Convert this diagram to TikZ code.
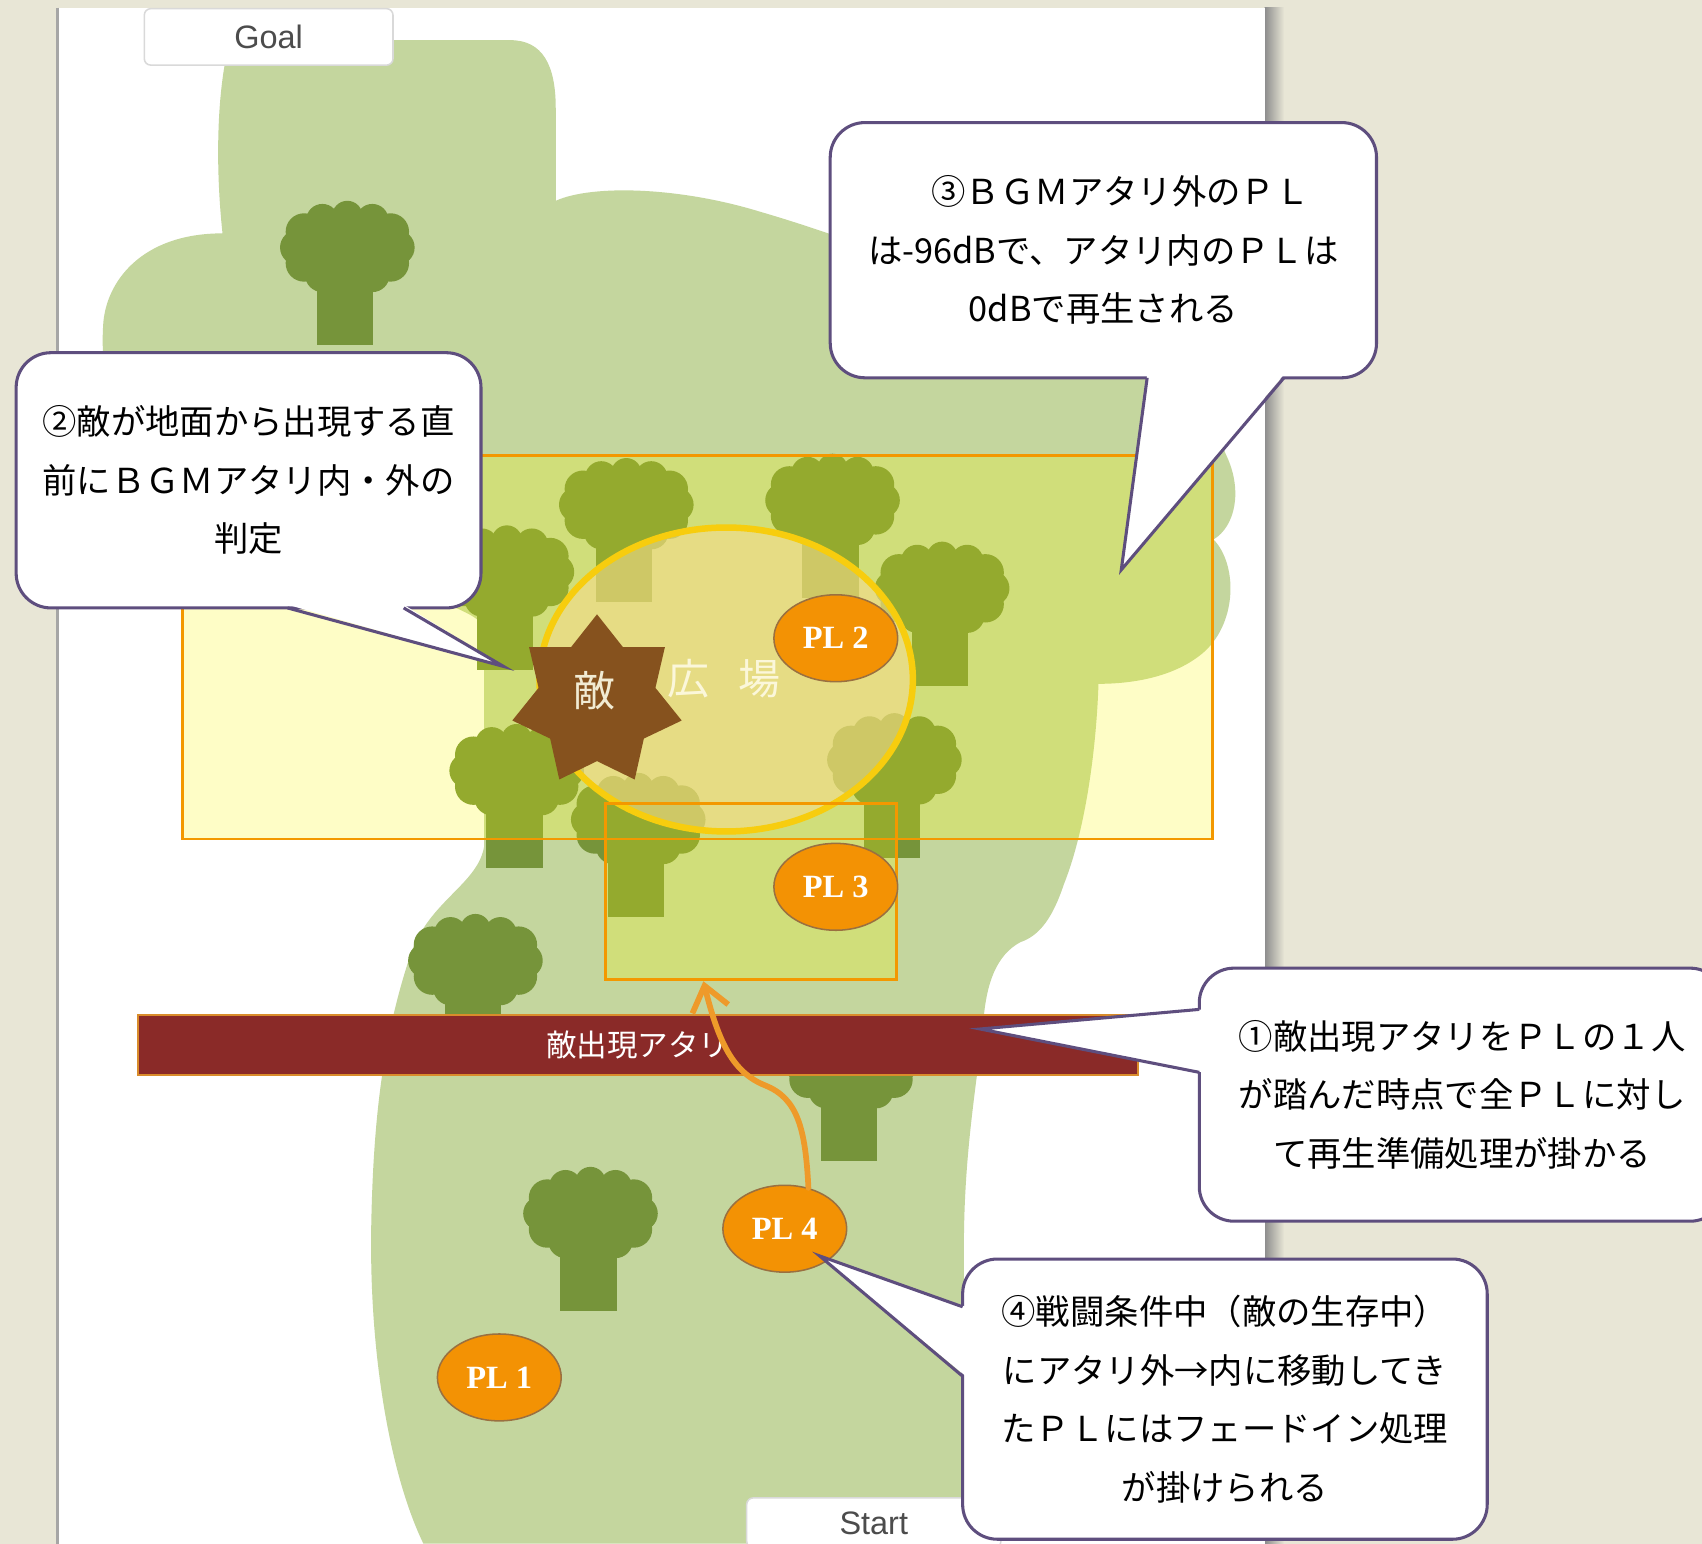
\documentclass[tikz,border=0pt]{standalone}
\usepackage{fontspec}
\setmainfont{Liberation Serif}
\newfontfamily\jp{Noto Sans CJK JP}
\newfontfamily\ui{Liberation Sans}
\usetikzlibrary{arrows.meta,shapes.geometric,calc}

\definecolor{deskbg}{HTML}{E8E6D6}
\definecolor{field}{HTML}{C4D69E}
\definecolor{fieldlit}{HTML}{D0DE7A}
\definecolor{leaf}{HTML}{76943A}
\definecolor{leaflit}{HTML}{94AA2E}
\definecolor{zonefill}{HTML}{FEFDC6}
\definecolor{zoneline}{HTML}{F39800}
\definecolor{plaza}{RGB}{245,220,140}
\definecolor{plazaline}{HTML}{F7CD0E}
\definecolor{plazatext}{HTML}{FBF7DA}
\definecolor{foefill}{HTML}{86521E}
\definecolor{foetext}{HTML}{F1EBD3}
\definecolor{plfill}{HTML}{F39204}
\definecolor{plrim}{HTML}{9A7040}
\definecolor{spawnfill}{HTML}{8A2A28}
\definecolor{spawnrim}{HTML}{D98C2B}
\definecolor{balloonline}{HTML}{5E4E7E}
\definecolor{walk}{HTML}{EE9A2A}

% one tree: crown centred on the pic origin, trunk hanging below
\tikzset{
  leafy/.pic={
    \fill[pic actions] (-28,15) rectangle (24,90);
    \fill[pic actions] (0,2) ellipse [x radius=46, y radius=36];
    \foreach \a/\r in {0/16,30/17,60/16,90/15,120/16,150/17,180/16,210/17,240/15,270/14,300/15,330/17}
      \fill[pic actions] ({46*cos(\a)},{29*sin(\a)}) circle (\r);
  }
}

% outline of the walkable ground
\newcommand{\fieldpath}{(205,215) .. controls (198,150) and (200,80) .. (212,37) -- (470,37)
  .. controls (500,37) and (512,60) .. (512,100) -- (512,185)
  .. controls (545,170) and (625,172) .. (700,195) .. controls (820,230) and (960,290) .. (1050,345)
  .. controls (1095,372) and (1120,395) .. (1130,420) .. controls (1145,452) and (1138,485) .. (1118,497)
  .. controls (1140,520) and (1140,572) .. (1110,600) .. controls (1082,625) and (1040,630) .. (1012,630)
  .. controls (1010,690) and (1000,765) .. (980,815) .. controls (970,845) and (958,862) .. (940,868)
  .. controls (918,880) and (909,905) .. (906,940) .. controls (900,1000) and (888,1060) .. (888,1150)
  -- (888,1422) -- (390,1422) .. controls (360,1360) and (340,1250) .. (342,1130)
  .. controls (344,1020) and (355,950) .. (378,880) .. controls (395,830) and (440,815) .. (446,780)
  -- (446,580) .. controls (446,555) and (300,530) .. (160,455)
  .. controls (105,425) and (92,350) .. (95,300) .. controls (97,260) and (130,215) .. (205,215) -- cycle}
\newcommand{\treespots}{320/228,577/465,767/461,467/527,868/542,476/710,824/700,588/755,438/885,784/980,544/1118}
\newcommand{\drawfield}[2]{%
  \fill[#1] \fieldpath;
  \foreach \x/\y in \treespots \pic[fill=#2] at (\x,\y) {leafy};
}

\begin{document}
\begin{tikzpicture}[x=0.01cm,y=-0.01cm]
  \tikzstyle{zone}=[draw=zoneline,line width=0.75pt]
  \tikzstyle{pl}=[ellipse,fill=plfill,draw=plrim,line width=0.4pt,minimum width=1.14cm,minimum height=0.8cm,inner sep=0pt,text=white,font=\bfseries\fontsize{8.5}{10}\selectfont]
  \tikzstyle{balloon}=[draw=balloonline,fill=white,line width=0.8pt,rounded corners=0.32cm,outer sep=0pt,inner sep=0pt,align=center,font=\jp\fontsize{9}{15.3}\selectfont]
  \tikzstyle{tailline}=[draw=balloonline,line width=0.8pt]
  \tikzstyle{tab}=[draw=black!15,fill=white,rounded corners=0.06cm,font=\ui\fontsize{8.5}{10}\selectfont,text=black!70]
  \tikzstyle{walkpath}=[draw=walk,line width=1.5pt,line cap=round,-{Straight Barb[length=2.2mm,width=3.4mm]}]

  \useasboundingbox (0,0) rectangle (1568,1422);
  \fill[deskbg] (0,0) rectangle (1568,1422);

  % sheet of paper
  \shade[left color=black!45,right color=deskbg] (1165,7) rectangle (1183,1422);
  \fill[white] (53,7) rectangle (1165,1422);
  \draw[black!35,line width=1pt] (53,7) -- (53,1422);

  % ground and trees
  \drawfield{field}{leaf}

  \node[tab,minimum width=2.29cm,minimum height=0.52cm] (goal) at (247.5,34) {Goal};
  \node[tab,minimum width=2.34cm,minimum height=0.46cm] (start) at (805,1403) {Start};

  % BGM area and the small area by the entrance
  \coordinate (bgm nw) at (168,420);
  \coordinate (bgm se) at (1117,773);
  \coordinate (near nw) at (558,740);
  \coordinate (near se) at (826,902);
  \begin{scope}
    \clip (bgm nw) rectangle (bgm se);
    \fill[zonefill] (bgm nw) rectangle (bgm se);
    \drawfield{fieldlit}{leaflit}
  \end{scope}
  \begin{scope}
    \clip (near nw) rectangle (near se);
    \fill[zonefill] (near nw) rectangle (near se);
    \drawfield{fieldlit}{leaflit}
  \end{scope}

  % plaza
  \fill[plaza,opacity=0.6] (669,626) ellipse [x radius=172, y radius=140];
  \draw[plazaline,line width=1.7pt] (669,626) ellipse [x radius=172, y radius=140];

  \draw[zone] (bgm nw) rectangle (bgm se);
  \draw[zone] (near nw) rectangle (near se);

  \node[star,star points=7,star point ratio=1.45,minimum size=1.6cm,inner sep=0pt,fill=foefill] (foe) at (550,646) {};
  \node[text=foetext,font=\jp\fontsize{11}{12}\selectfont] (foename) at ($(foe)+(-2,-10)$) {敵};
  \node[text=plazatext,font=\jp\fontsize{11}{12}\selectfont] (plazaname) at (667,625) {広\hspace{0.27cm}場};

  \node[pl] (pl2) at (770,588) {PL 2};
  \node[pl] (pl3) at (770,817) {PL 3};
  \node[pl] (pl4) at (723,1132) {PL 4};
  \node[pl] (pl1) at (460,1269) {PL 1};

  % spawn trigger strip
  \node[fill=spawnfill,draw=spawnrim,line width=0.5pt,minimum width=9.21cm,minimum height=0.55cm,text=white,font=\jp\fontsize{8}{9}\selectfont] (spawn) at (587.5,962.5) {敵出現アタリ};

  \coordinate (entry) at (648,904);
  \draw[walkpath] (pl4.60) .. controls (742,1040) and (735,1012) .. (705,1000)
    .. controls (675,988) and (662,960) .. (entry);

  % balloons
  \node[balloon,minimum width=4.28cm,minimum height=2.35cm] (c2) at (229,442.5)
    {②敵が地面から出現する直\\前にＢＧＭアタリ内・外の\\判定};
  \coordinate (tip2) at (464,614);
  \fill[white] ($(c2.south west)+(250,-3)$) -- (tip2) -- ($(c2.south west)+(357,-3)$) -- cycle;
  \draw[tailline] ($(c2.south west)+(250,0)$) -- (tip2) -- ($(c2.south west)+(357,0)$);

  \node[balloon,minimum width=5.03cm,minimum height=2.35cm] (c3) at (1016.5,230.5)
    {　③ＢＧＭアタリ外のＰＬ\\は-96dBで、アタリ内のＰＬは\\0dBで再生される};
  \coordinate (tip3) at (1033,525);
  \fill[white] ($(c3.south west)+(292,-3)$) -- (tip3) -- ($(c3.south west)+(418,-3)$) -- cycle;
  \draw[tailline] ($(c3.south west)+(292,0)$) -- (tip3) -- ($(c3.south west)+(418,0)$);

  \node[balloon,minimum width=4.84cm,minimum height=2.33cm] (c1) at (1347,1008.5)
    {①敵出現アタリをＰＬの１人\\が踏んだ時点で全ＰＬに対し\\て再生準備処理が掛かる};
  \coordinate (tip1) at (903,948);
  \fill[white] ($(c1.north west)+(3,38)$) -- (tip1) -- ($(c1.north west)+(3,96)$) -- cycle;
  \draw[tailline] ($(c1.north west)+(0,38)$) -- (tip1) -- ($(c1.north west)+(0,96)$);

  \node[balloon,minimum width=4.83cm,minimum height=2.58cm] (c4) at (1128.5,1289)
    {④戦闘条件中（敵の生存中）\\にアタリ外→内に移動してき\\たＰＬにはフェードイン処理\\が掛けられる};
  \coordinate (tip4) at (755,1157);
  \fill[white] ($(c4.north west)+(3,44)$) -- (tip4) -- ($(c4.north west)+(3,108)$) -- cycle;
  \draw[tailline] ($(c4.north west)+(0,44)$) -- (tip4) -- ($(c4.north west)+(0,108)$);
\end{tikzpicture}
\end{document}
